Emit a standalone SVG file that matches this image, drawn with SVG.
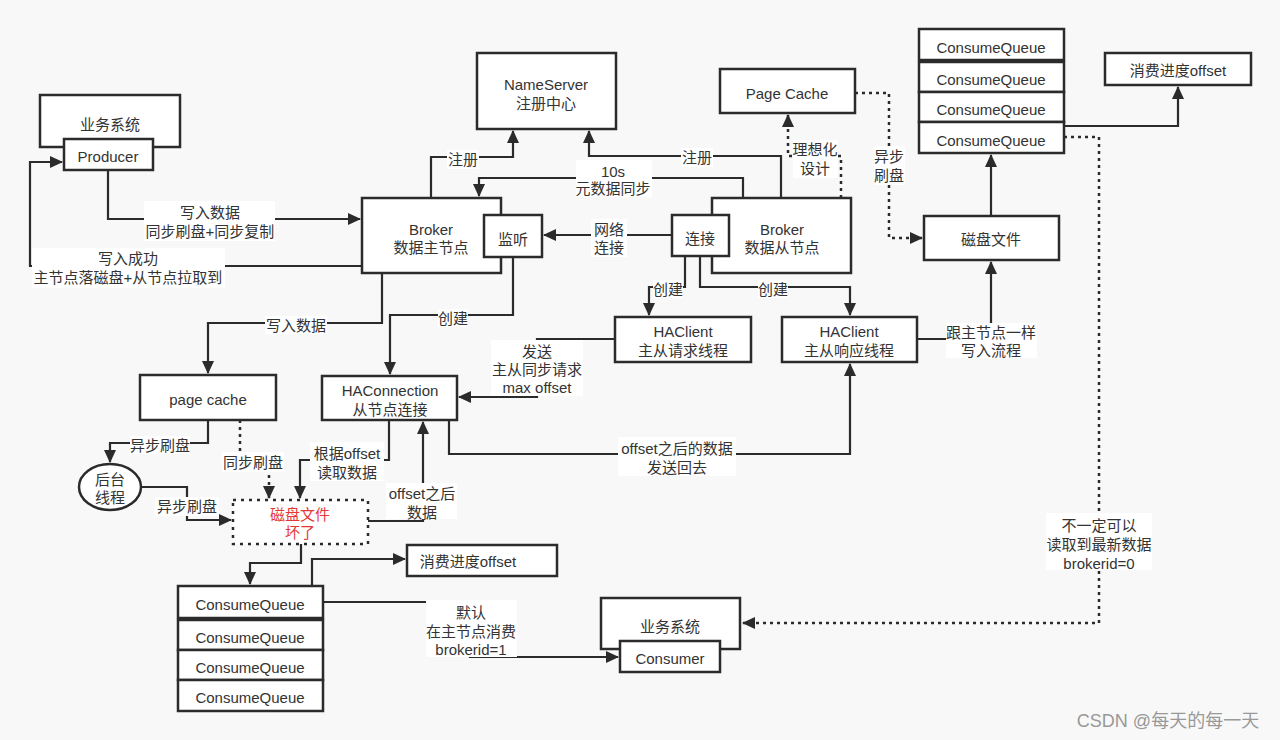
<svg xmlns="http://www.w3.org/2000/svg" width="1280" height="740" viewBox="0 0 1280 740">
<style>
text{font-family:"Liberation Sans","Noto Sans CJK SC",sans-serif;font-size:15px;fill:#333;text-anchor:middle;dominant-baseline:central}
.box{fill:#fff;stroke:#2b2b2b;stroke-width:2.5}
.dbox{fill:#fff;stroke:#2b2b2b;stroke-width:2.5;stroke-dasharray:3 5}
.ln{fill:none;stroke:#2b2b2b;stroke-width:2.2}
.dl{fill:none;stroke:#2b2b2b;stroke-width:2.5;stroke-dasharray:3 4}
.lb{fill:#fff;stroke:none}
.red{fill:#e53935}
.wm{fill:#999;font-size:18px}
</style>
<defs>
<marker id="ah" markerWidth="13" markerHeight="12" refX="12" refY="6" orient="auto" markerUnits="userSpaceOnUse"><path d="M0,0 L13,6 L0,12 z" fill="#2b2b2b"/></marker>
</defs>
<rect width="1280" height="740" fill="#f8f8f8"/>

<g id="connectors">
<path class="ln" d="M108,170 V219 H360" marker-end="url(#ah)"/>
<path class="ln" d="M362,266 H30 V162 H62" marker-end="url(#ah)"/>
<path class="ln" d="M431,198 V157 H513 V131" marker-end="url(#ah)"/>
<path class="ln" d="M781,198 V156 H589 V131" marker-end="url(#ah)"/>
<path class="ln" d="M743,198 V178 H479 V196" marker-end="url(#ah)"/>
<path class="ln" d="M672,235 H544" marker-end="url(#ah)"/>
<path class="dl" d="M841,198 V156 H788 V115" marker-end="url(#ah)"/>
<path class="dl" d="M855,93 H889 V238 H922" marker-end="url(#ah)"/>
<path class="ln" d="M991,216 V155" marker-end="url(#ah)"/>
<path class="ln" d="M1064,126 H1178 V87" marker-end="url(#ah)"/>
<path class="dl" d="M1064,137 H1099 V623 H743" marker-end="url(#ah)"/>
<path class="ln" d="M917,339 H991 V262" marker-end="url(#ah)"/>
<path class="ln" d="M685,256 V287 H649 V315" marker-end="url(#ah)"/>
<path class="ln" d="M700,256 V287 H850 V315" marker-end="url(#ah)"/>
<path class="ln" d="M382,273 V323 H208 V373" marker-end="url(#ah)"/>
<path class="ln" d="M513,257 V315 H390 V374" marker-end="url(#ah)"/>
<path class="ln" d="M615,339 H537 V397 H459" marker-end="url(#ah)"/>
<path class="ln" d="M449,420 V454 H850 V364" marker-end="url(#ah)"/>
<path class="ln" d="M389,420 V460 H300 V498" marker-end="url(#ah)"/>
<path class="ln" d="M368,521 H423 V422" marker-end="url(#ah)"/>
<path class="ln" d="M208,420 V443 H110 V462" marker-end="url(#ah)"/>
<path class="dl" d="M240,420 V462 H269 V498" marker-end="url(#ah)"/>
<path class="ln" d="M141,487 H187 V520 H231" marker-end="url(#ah)"/>
<path class="ln" d="M301,544 V563 H250 V584" marker-end="url(#ah)"/>
<path class="ln" d="M312,586 V559 H405" marker-end="url(#ah)"/>
<path class="ln" d="M323,602 H470 V657 H618" marker-end="url(#ah)"/>

<rect class="lb" x="144" y="201" width="131" height="40"/>
<text><tspan x="210" y="212">写入数据</tspan><tspan x="210" y="231">同步刷盘+同步复制</tspan></text>
<rect class="lb" x="32" y="248" width="193" height="40"/>
<text><tspan x="128" y="258">写入成功</tspan><tspan x="128" y="277">主节点落磁盘+从节点拉取到</tspan></text>
<rect class="lb" x="447" y="150" width="32" height="19"/><text x="463" y="159">注册</text>
<rect class="lb" x="681" y="148" width="32" height="19"/><text x="697" y="157">注册</text>
<rect class="lb" x="576" y="160" width="76" height="37"/>
<text><tspan x="613" y="171">10s</tspan><tspan x="613" y="188">元数据同步</tspan></text>
<rect class="lb" x="591" y="219" width="36" height="38"/>
<text><tspan x="609" y="229">网络</tspan><tspan x="609" y="247">连接</tspan></text>
<rect class="lb" x="793" y="140" width="45" height="38"/>
<text><tspan x="815" y="149">理想化</tspan><tspan x="815" y="168">设计</tspan></text>
<rect class="lb" x="874" y="146" width="31" height="39"/>
<text><tspan x="889" y="156">异步</tspan><tspan x="889" y="175">刷盘</tspan></text>
<rect class="lb" x="1046" y="513" width="106" height="57"/>
<text><tspan x="1099" y="525">不一定可以</tspan><tspan x="1099" y="544">读取到最新数据</tspan><tspan x="1099" y="563">brokerid=0</tspan></text>
<rect class="lb" x="946" y="323" width="91" height="35"/>
<text><tspan x="991" y="332">跟主节点一样</tspan><tspan x="991" y="350">写入流程</tspan></text>
<rect class="lb" x="653" y="280" width="30" height="18"/><text x="668" y="289">创建</text>
<rect class="lb" x="758" y="280" width="30" height="18"/><text x="773" y="289">创建</text>
<rect class="lb" x="265" y="316" width="62" height="18"/><text x="296" y="325">写入数据</text>
<rect class="lb" x="438" y="309" width="30" height="18"/><text x="453" y="318">创建</text>
<rect class="lb" x="491" y="340" width="92" height="56"/>
<text><tspan x="537" y="351">发送</tspan><tspan x="537" y="369">主从同步请求</tspan><tspan x="537" y="387">max offset</tspan></text>
<rect class="lb" x="618" y="437" width="118" height="39"/>
<text><tspan x="677" y="448">offset之后的数据</tspan><tspan x="677" y="467">发送回去</tspan></text>
<rect class="lb" x="310" y="442" width="74" height="39"/>
<text><tspan x="347" y="453">根据offset</tspan><tspan x="347" y="472">读取数据</tspan></text>
<rect class="lb" x="386" y="483" width="71" height="36"/>
<text><tspan x="422" y="493">offset之后</tspan><tspan x="422" y="512">数据</tspan></text>
<rect class="lb" x="130" y="436" width="60" height="18"/><text x="160" y="445">异步刷盘</text>
<rect class="lb" x="222" y="452" width="62" height="20"/><text x="253" y="462">同步刷盘</text>
<rect class="lb" x="155" y="497" width="64" height="19"/><text x="187" y="506">异步刷盘</text>
<rect class="lb" x="426" y="600" width="91" height="57"/>
<text><tspan x="471" y="612">默认</tspan><tspan x="471" y="631">在主节点消费</tspan><tspan x="471" y="649">brokerid=1</tspan></text>
</g>

<g id="producer-system">
<rect class="box" x="40" y="95" width="140" height="52"/>
<text x="110" y="124">业务系统</text>
</g>
<g id="producer">
<rect class="box" x="64" y="139" width="89" height="31"/>
<text x="108" y="156">Producer</text>
</g>
<g id="nameserver">
<rect class="box" x="477" y="53" width="139" height="76"/>
<text><tspan x="546" y="84">NameServer</tspan><tspan x="546" y="103">注册中心</tspan></text>
</g>
<g id="broker-master">
<rect class="box" x="362" y="198" width="139" height="75"/>
<text><tspan x="431" y="229">Broker</tspan><tspan x="431" y="247">数据主节点</tspan></text>
</g>
<g id="listen">
<rect class="box" x="484" y="215" width="58" height="42"/>
<text x="513" y="239">监听</text>
</g>
<g id="broker-slave">
<rect class="box" x="712" y="198" width="139" height="75"/>
<text><tspan x="782" y="229">Broker</tspan><tspan x="782" y="247">数据从节点</tspan></text>
</g>
<g id="connect">
<rect class="box" x="672" y="215" width="57" height="41"/>
<text x="700" y="238">连接</text>
</g>
<g id="pagecache-top">
<rect class="box" x="720" y="69" width="135" height="44"/>
<text x="787" y="93">Page Cache</text>
</g>
<g id="disk-file">
<rect class="box" x="924" y="216" width="135" height="44"/>
<text x="991" y="239">磁盘文件</text>
</g>
<g id="cq-top">
<rect class="box" x="919" y="29" width="145" height="31"/><text x="991" y="47">ConsumeQueue</text>
<rect class="box" x="919" y="62" width="145" height="30"/><text x="991" y="79">ConsumeQueue</text>
<rect class="box" x="919" y="92" width="145" height="30"/><text x="991" y="109">ConsumeQueue</text>
<rect class="box" x="919" y="122" width="145" height="31"/><text x="991" y="140">ConsumeQueue</text>
</g>
<g id="offset-top">
<rect class="box" x="1105" y="53" width="146" height="32"/>
<text x="1178" y="70">消费进度offset</text>
</g>
<g id="haclient-req">
<rect class="box" x="615" y="317" width="136" height="45"/>
<text><tspan x="683" y="331">HAClient</tspan><tspan x="683" y="350">主从请求线程</tspan></text>
</g>
<g id="haclient-resp">
<rect class="box" x="782" y="317" width="135" height="45"/>
<text><tspan x="849" y="331">HAClient</tspan><tspan x="849" y="350">主从响应线程</tspan></text>
</g>
<g id="pagecache">
<rect class="box" x="140" y="375" width="136" height="45"/>
<text x="208" y="399">page cache</text>
</g>
<g id="haconnection">
<rect class="box" x="322" y="376" width="135" height="44"/>
<text><tspan x="390" y="390">HAConnection</tspan><tspan x="390" y="409">从节点连接</tspan></text>
</g>
<g id="bg-thread">
<ellipse class="box" cx="110" cy="487" rx="31" ry="23"/>
<text><tspan x="110" y="479">后台</tspan><tspan x="110" y="497">线程</tspan></text>
</g>
<g id="disk-broken">
<rect class="dbox" x="233" y="500" width="135" height="44"/>
<text class="red"><tspan x="300" y="514">磁盘文件</tspan><tspan x="300" y="532">坏了</tspan></text>
</g>
<g id="cq-bottom">
<rect class="box" x="178" y="586" width="145" height="32"/><text x="250" y="604">ConsumeQueue</text>
<rect class="box" x="178" y="620" width="145" height="30"/><text x="250" y="637">ConsumeQueue</text>
<rect class="box" x="178" y="650" width="145" height="30"/><text x="250" y="667">ConsumeQueue</text>
<rect class="box" x="178" y="680" width="145" height="31"/><text x="250" y="697">ConsumeQueue</text>
</g>
<g id="offset-bottom">
<rect class="box" x="407" y="545" width="150" height="31"/>
<text x="468" y="561">消费进度offset</text>
</g>
<g id="consumer-system">
<rect class="box" x="601" y="598" width="139" height="51"/>
<text x="670" y="626">业务系统</text>
</g>
<g id="consumer">
<rect class="box" x="620" y="641" width="100" height="31"/>
<text x="670" y="658">Consumer</text>
</g>
<text class="wm" x="1168" y="721">CSDN @每天的每一天</text>
</svg>
